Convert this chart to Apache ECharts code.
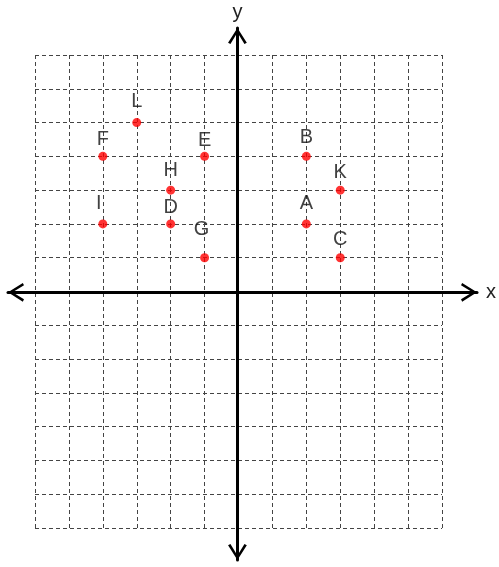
<!DOCTYPE html>
<html>
<head>
<meta charset="utf-8">
<script src="https://cdn.jsdelivr.net/npm/echarts@6/dist/echarts.min.js"></script>
<style>
  html, body { margin: 0; padding: 0; background: #fff; }
  #main { width: 499px; height: 567px; }
</style>
</head>
<body>
<div id="main"></div>
<script>
// point names and coordinates
const names = ['A', 'B', 'C', 'D', 'E', 'F', 'G', 'H', 'I', 'K', 'L']
const xs = [2, 2, 3, -2, -1, -4, -1, -2, -4, 3, -3]
const ys = [2, 4, 1, 2, 4, 4, 1, 3, 2, 3, 5]

// grid range (dashed squares) and axis range (arrows)
const gridX = [-6, 6]
const gridY = [-7, 7]
const axisX = [-6.8, 7.1]
const axisY = [-7.9, 7.8]

// small label nudges [dx, dy] per letter
const labelNudge = {
  A: [0, -2], D: [0, 2], E: [0, 3], F: [0, 2], G: [-3, -10],
  H: [0, -1], I: [-4, -2], K: [0, 1], L: [0, -3]
}

const chevron = 'path://M0,15 L9.5,0 L19,15 L16.6,16.2 L9.5,4.6 L2.4,16.2 Z'

let chart = echarts.init(document.getElementById('main'))

let points = names.map((n, i) => ({
  name: n,
  value: [xs[i], ys[i]],
  label: { offset: labelNudge[n] || [0, 0] }
}))

let option = {
  animation: false,
  grid: [
    { left: 35, right: 57, top: 55, bottom: 39 },
    { left: 8, right: 22, top: 28, bottom: 7 }
  ],
  xAxis: [{
    gridIndex: 0,
    type: 'value',
    min: gridX[0],
    max: gridX[1],
    interval: 1,
    axisLine: { show: false },
    axisTick: { show: false },
    axisLabel: { show: false },
    splitLine: { show: true, lineStyle: { color: '#444', type: [4, 3], width: 1 } }
  }, {
    gridIndex: 1,
    type: 'value',
    min: axisX[0],
    max: axisX[1],
    axisLine: {
      onZero: true,
      lineStyle: { color: '#000', width: 3 },
      symbol: [chevron, chevron],
      symbolSize: [19, 16],
      symbolOffset: [8, -8]
    },
    axisTick: { show: false },
    axisLabel: { show: false },
    splitLine: { show: false },
    name: 'x',
    nameLocation: 'end',
    nameGap: 9,
    nameTextStyle: { fontFamily: 'Liberation Sans', fontSize: 20, color: '#222' }
  }],
  yAxis: [{
    gridIndex: 0,
    type: 'value',
    min: gridY[0],
    max: gridY[1],
    interval: 1,
    axisLine: { show: false },
    axisTick: { show: false },
    axisLabel: { show: false },
    splitLine: { show: true, lineStyle: { color: '#444', type: [4, 3], width: 1 } }
  }, {
    gridIndex: 1,
    type: 'value',
    min: axisY[0],
    max: axisY[1],
    axisLine: {
      onZero: true,
      lineStyle: { color: '#000', width: 3 },
      symbol: [chevron, chevron],
      symbolSize: [19, 16],
      symbolOffset: [8, -8]
    },
    axisTick: { show: false },
    axisLabel: { show: false },
    splitLine: { show: false },
    name: 'y',
    nameLocation: 'end',
    nameGap: 6,
    nameTextStyle: { fontFamily: 'Liberation Sans', fontSize: 20, color: '#222' }
  }],
  series: [{
    type: 'scatter',
    xAxisIndex: 0,
    yAxisIndex: 0,
    data: points,
    symbolSize: 9,
    itemStyle: { color: '#ff0000' },
    label: {
      show: true,
      position: 'top',
      distance: 4,
      formatter: '{b}',
      color: '#111',
      fontFamily: 'Liberation Sans',
      fontSize: 20
    },
    z: 5
  }]
}
chart.setOption(option)
</script>
</body>
</html>
